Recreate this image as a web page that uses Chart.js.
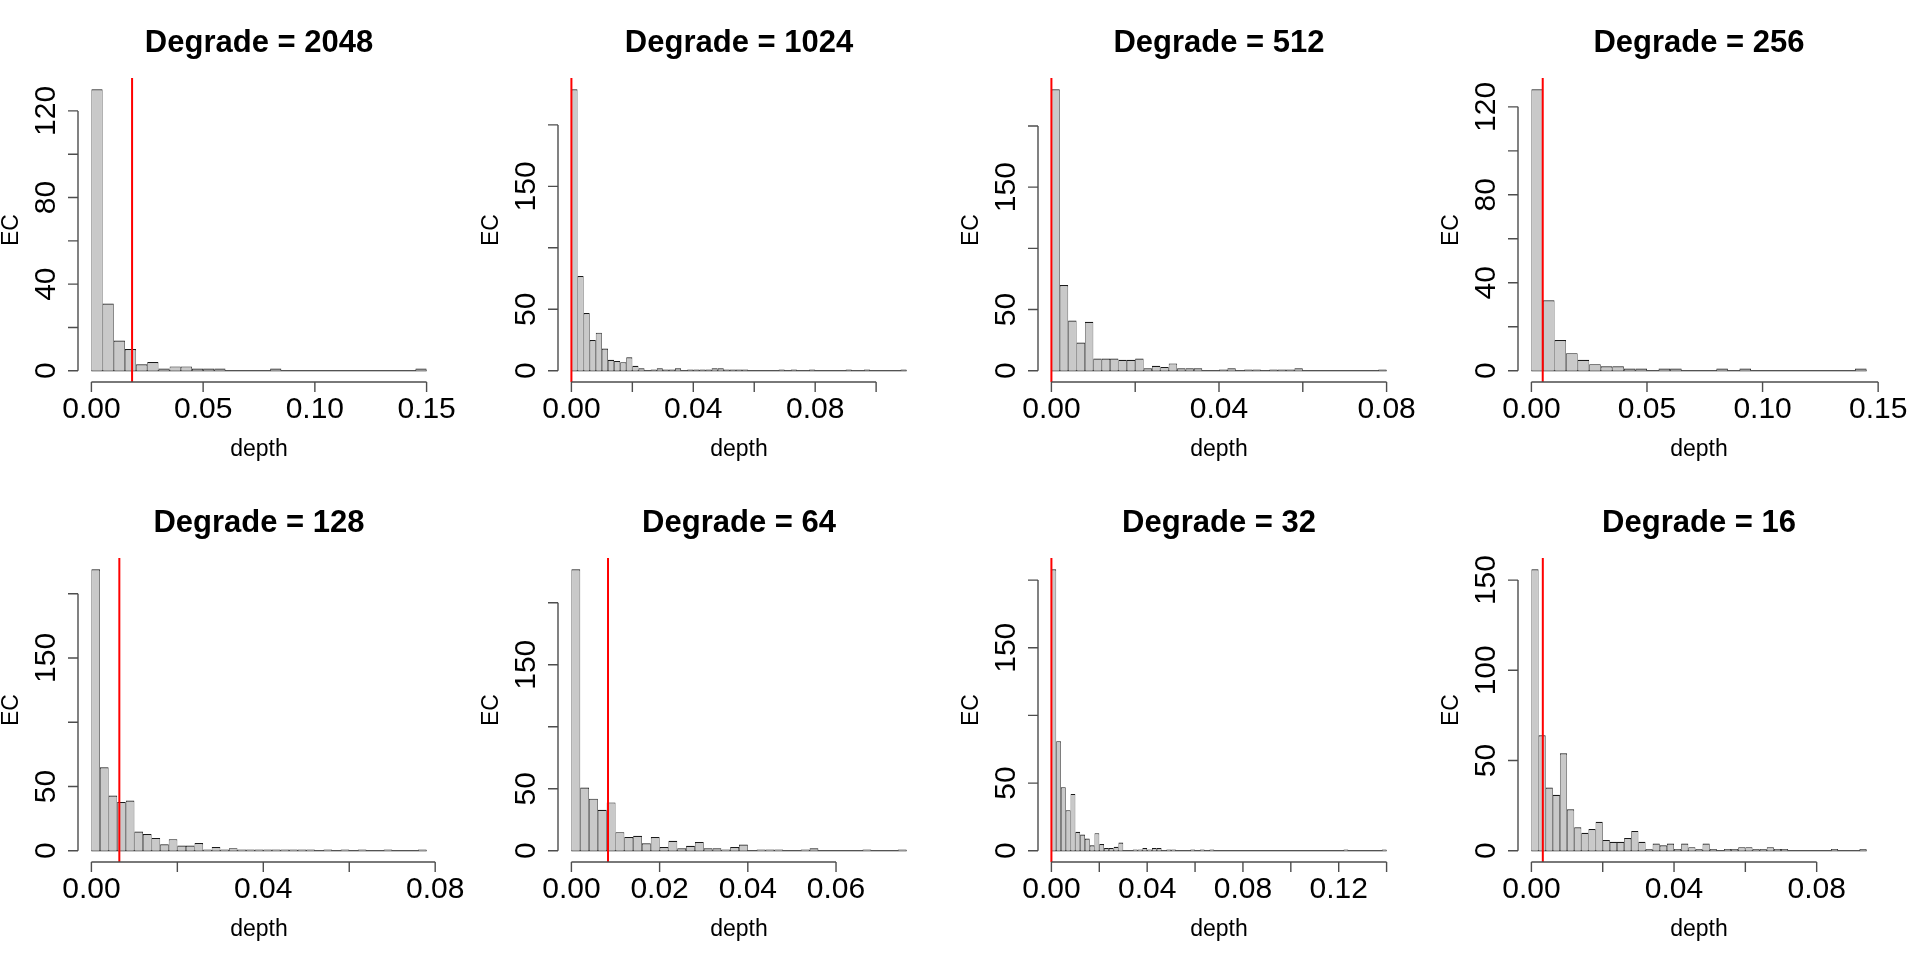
<!DOCTYPE html>
<html>
<head>
<meta charset="utf-8">
<title>EC depth by degrade level</title>
<script src="https://cdn.jsdelivr.net/npm/chart.js@4.4.1/dist/chart.umd.min.js"></script>
<style>
    html, body {
        margin: 0;
        padding: 0;
        background: #ffffff;
    }
    #grid {
        position: relative;
        width: 1920px;
        height: 960px;
    }
    .panel {
        position: absolute;
        width: 480px;
        height: 480px;
    }
</style>
</head>
<body>
<div id="grid"></div>
<script>
// Degrade levels, one histogram panel each (row by row)
const degradeLevels = [2048, 1024, 512, 256, 128, 64, 32, 16];

// Histogram bin width for each panel, bins start at 0
const binWidths = [0.005, 0.002, 0.002, 0.005, 0.002, 0.002, 0.002, 0.002];

// Bin counts
const counts2048 = [130, 31, 14, 10, 3, 4, 1, 2, 2, 1, 1, 1, 0, 0, 0, 0, 1, 0, 0, 0,
    0, 0, 0, 0, 0, 0, 0, 0, 0, 1];
const counts1024 = [229, 77, 47, 25, 31, 18, 9, 8, 7, 11, 4, 2, 0, 1, 2, 1, 1, 2, 0, 1,
    1, 1, 1, 2, 2, 1, 1, 1, 1, 0, 0, 0, 0, 0, 1, 0, 1, 0, 0, 1,
    0, 0, 0, 0, 0, 1, 0, 0, 1, 0, 0, 0, 0, 0, 1];
const counts512 = [230, 70, 41, 23, 40, 10, 10, 10, 9, 9, 10, 2, 4, 3, 6, 2, 2, 2, 0, 0,
    1, 2, 0, 1, 1, 0, 1, 1, 1, 2, 0, 0, 0, 0, 0, 0, 0, 0, 0, 1];
const counts256 = [128, 32, 14, 8, 5, 3, 2, 2, 1, 1, 0, 1, 1, 0, 0, 0, 1, 0, 1, 0,
    0, 0, 0, 0, 0, 0, 0, 0, 1];
const counts128 = [219, 65, 43, 38, 39, 15, 13, 10, 5, 9, 4, 4, 6, 1, 3, 1, 2, 1, 1, 1,
    1, 1, 1, 1, 1, 1, 0, 1, 0, 1, 0, 1, 0, 0, 1, 0, 0, 0, 1];
const counts64 = [227, 51, 42, 33, 39, 15, 11, 12, 6, 11, 3, 8, 2, 4, 7, 2, 2, 1, 3, 5,
    0, 1, 1, 1, 0, 0, 1, 2, 0, 0, 0, 0, 0, 1, 0, 0, 0, 1];
const counts32 = [208, 81, 47, 30, 42, 14, 12, 9, 4, 13, 5, 2, 2, 3, 6, 0, 0, 1, 1, 2,
    1, 2, 2, 0, 1, 1, 0, 0, 0, 1, 0, 1, 0, 1, 0, 0, 0, 0, 0, 0,
    0, 0, 0, 0, 0, 0, 0, 0, 0, 0, 0, 0, 0, 0, 0, 0, 0, 0, 0, 0,
    0, 1, 0, 0, 0, 0, 0, 0, 0, 1];
const counts16 = [156, 64, 35, 31, 54, 23, 13, 10, 12, 16, 6, 5, 5, 7, 11, 5, 1, 4, 3, 4,
    1, 4, 2, 1, 4, 1, 0, 1, 1, 2, 2, 1, 1, 2, 1, 1, 0, 0, 0, 0,
    0, 0, 1, 0, 0, 0, 1];

const panelCounts = [counts2048, counts1024, counts512, counts256,
    counts128, counts64, counts32, counts16];

// Depth marked by the red vertical line in each panel
const markerDepths = [0.0182, 0, 0, 0.0049, 0.0065, 0.0083, 0, 0.0032];

// Axis ticks and their labels ('' = tick without label)
const xTickValues = [
    [0, 0.05, 0.10, 0.15],
    [0, 0.02, 0.04, 0.06, 0.08, 0.10],
    [0, 0.02, 0.04, 0.06, 0.08],
    [0, 0.05, 0.10, 0.15],
    [0, 0.02, 0.04, 0.06, 0.08],
    [0, 0.02, 0.04, 0.06],
    [0, 0.02, 0.04, 0.06, 0.08, 0.10, 0.12, 0.14],
    [0, 0.02, 0.04, 0.06, 0.08]
];
const xTickLabels = [
    ['0.00', '0.05', '0.10', '0.15'],
    ['0.00', '', '0.04', '', '0.08', ''],
    ['0.00', '', '0.04', '', '0.08'],
    ['0.00', '0.05', '0.10', '0.15'],
    ['0.00', '', '0.04', '', '0.08'],
    ['0.00', '0.02', '0.04', '0.06'],
    ['0.00', '', '0.04', '', '0.08', '', '0.12', ''],
    ['0.00', '', '0.04', '', '0.08']
];
const yTickValues = [
    [0, 20, 40, 60, 80, 100, 120],
    [0, 50, 100, 150, 200],
    [0, 50, 100, 150, 200],
    [0, 20, 40, 60, 80, 100, 120],
    [0, 50, 100, 150, 200],
    [0, 50, 100, 150, 200],
    [0, 50, 100, 150, 200],
    [0, 50, 100, 150]
];
const yTickLabels = [
    ['0', '', '40', '', '80', '', '120'],
    ['0', '50', '', '150', ''],
    ['0', '50', '', '150', ''],
    ['0', '', '40', '', '80', '', '120'],
    ['0', '50', '', '150', ''],
    ['0', '50', '', '150', ''],
    ['0', '50', '', '150', ''],
    ['0', '50', '100', '150']
];

const xAxisTitle = 'depth';
const yAxisTitle = 'EC';

const FONT_FAMILY = '"Liberation Sans", Arial, Helvetica, sans-serif';

/**
 * Draws base-graphics style axes, titles and tick labels
 * using the chart's own x and y scales
 */
const baseAxesPlugin = {
    id: 'baseAxes',
    afterDraw(chart, args, opts) {
        const ctx = chart.ctx;
        const area = chart.chartArea;
        const xScale = chart.scales.x;
        const yScale = chart.scales.y;
        const midX = (area.left + area.right) / 2;
        const midY = (area.top + area.bottom) / 2;

        ctx.save();
        ctx.fillStyle = '#000000';
        ctx.strokeStyle = '#4d4d4d';
        ctx.lineWidth = 1.4;

        // Panel title
        ctx.font = 'bold 31px ' + FONT_FAMILY;
        ctx.textAlign = 'center';
        ctx.textBaseline = 'alphabetic';
        ctx.fillText(opts.title, midX, area.top - 26);

        // x axis: line between first and last tick, ticks pointing down
        const axisY = area.bottom;
        const xPix = opts.xTicks.map(v => xScale.getPixelForValue(v));
        ctx.beginPath();
        ctx.moveTo(xPix[0], axisY);
        ctx.lineTo(xPix[xPix.length - 1], axisY);
        xPix.forEach(px => {
            ctx.moveTo(px, axisY);
            ctx.lineTo(px, axisY + 10);
        });
        ctx.stroke();

        ctx.font = '30px ' + FONT_FAMILY;
        opts.xLabels.forEach((label, i) => {
            if (label) ctx.fillText(label, xPix[i], axisY + 35.5);
        });

        // y axis: line between first and last tick, ticks pointing left
        const axisX = area.left;
        const yPix = opts.yTicks.map(v => yScale.getPixelForValue(v));
        ctx.beginPath();
        ctx.moveTo(axisX, yPix[0]);
        ctx.lineTo(axisX, yPix[yPix.length - 1]);
        yPix.forEach(py => {
            ctx.moveTo(axisX, py);
            ctx.lineTo(axisX - 10, py);
        });
        ctx.stroke();

        opts.yLabels.forEach((label, i) => {
            if (!label) return;
            ctx.save();
            ctx.translate(axisX - 23, yPix[i]);
            ctx.rotate(-Math.PI / 2);
            ctx.fillText(label, 0, 0);
            ctx.restore();
        });

        // Axis titles
        ctx.font = '23px ' + FONT_FAMILY;
        ctx.fillText(opts.xTitle, midX, axisY + 73.5);
        ctx.save();
        ctx.translate(axisX - 60, midY);
        ctx.rotate(-Math.PI / 2);
        ctx.fillText(opts.yTitle, 0, 0);
        ctx.restore();

        ctx.restore();
    }
};

class DegradeHistogramGrid {
    constructor() {
        this.charts = [];
        this.init();
    }

    /**
     * Build all eight panels
     */
    init() {
        const grid = document.getElementById('grid');
        degradeLevels.forEach((level, index) => {
            const canvas = document.createElement('canvas');
            canvas.className = 'panel';
            canvas.width = 480;
            canvas.height = 480;
            canvas.style.left = (index % 4) * 480 + 'px';
            canvas.style.top = Math.floor(index / 4) * 480 + 'px';
            grid.appendChild(canvas);
            this.charts.push(this.createPanel(canvas, index));
        });
    }

    /**
     * Turn bin counts into {x, y} points at the bin centres
     * @param {Array} counts - counts per bin
     * @param {number} width - bin width
     * @returns {Array} bar points
     */
    getBarData(counts, width) {
        return counts.map((count, i) => ({ x: (i + 0.5) * width, y: count }));
    }

    /**
     * Create one histogram panel
     * @param {HTMLCanvasElement} canvas - target canvas
     * @param {number} index - panel index
     */
    createPanel(canvas, index) {
        const counts = panelCounts[index];
        const width = binWidths[index];
        const xRange = counts.length * width;
        const yMaxCount = Math.max(...counts);

        // same 4% padding on each side as base graphics
        const xMin = -0.04 * xRange;
        const xMax = xRange * 1.04;
        const yMin = -0.04 * yMaxCount;
        const yMax = yMaxCount * 1.04;

        return new Chart(canvas, {
            type: 'bar',
            data: {
                datasets: [
                    {
                        type: 'line',
                        data: [
                            { x: markerDepths[index], y: yMin },
                            { x: markerDepths[index], y: yMax }
                        ],
                        borderColor: '#ff0000',
                        borderWidth: 2,
                        pointRadius: 0,
                        order: 0
                    },
                    {
                        type: 'bar',
                        data: this.getBarData(counts, width),
                        backgroundColor: '#c9c9c9',
                        borderColor: '#1a1a1a',
                        borderWidth: { top: 1.2, left: 0.7, right: 0.7, bottom: 0 },
                        borderSkipped: false,
                        inflateAmount: 0,
                        barPercentage: 1,
                        categoryPercentage: 1,
                        order: 1
                    },
                    {
                        type: 'line',
                        data: [
                            { x: 0, y: 0 },
                            { x: xRange, y: 0 }
                        ],
                        borderColor: '#1a1a1a',
                        borderWidth: 1.2,
                        pointRadius: 0,
                        order: 2
                    }
                ]
            },
            options: {
                responsive: false,
                animation: false,
                events: [],
                layout: {
                    padding: { left: 78, right: 40, top: 78, bottom: 98 }
                },
                plugins: {
                    legend: { display: false },
                    tooltip: { enabled: false },
                    baseAxes: {
                        title: 'Degrade = ' + degradeLevels[index],
                        xTicks: xTickValues[index],
                        xLabels: xTickLabels[index],
                        yTicks: yTickValues[index],
                        yLabels: yTickLabels[index],
                        xTitle: xAxisTitle,
                        yTitle: yAxisTitle
                    }
                },
                scales: {
                    x: {
                        type: 'linear',
                        min: xMin,
                        max: xMax,
                        offset: false,
                        display: false
                    },
                    y: {
                        type: 'linear',
                        min: yMin,
                        max: yMax,
                        display: false
                    }
                }
            },
            plugins: [baseAxesPlugin]
        });
    }
}

document.addEventListener('DOMContentLoaded', () => {
    window.degradeGrid = new DegradeHistogramGrid();
});
</script>
</body>
</html>
